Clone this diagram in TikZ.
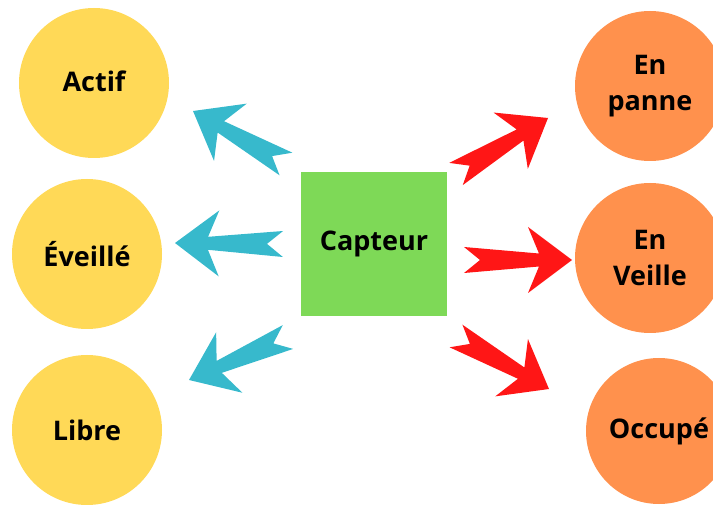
\documentclass[tikz,border=0pt]{standalone}
\usepackage{fontspec}
\setmainfont{Open Sans}
\usetikzlibrary{calc}
\definecolor{etatjaune}{RGB}{255,217,87}
\definecolor{etatorange}{RGB}{255,145,77}
\definecolor{capteurvert}{RGB}{126,217,87}
\definecolor{flechebleu}{RGB}{55,185,204}
\definecolor{flecherouge}{RGB}{255,22,22}
\tikzset{etat node/.style={circle,minimum size=150pt,inner sep=0pt,align=center,
            font=\fontsize{27}{36}\selectfont\bfseries},
         capteur node/.style={rectangle,fill=capteurvert,minimum width=146pt,minimum height=144pt,
            font=\fontsize{27}{36}\selectfont\bfseries},
            }
% fleche a queue fendue, de #1 (queue) vers #2 (pointe)
\newcommand{\fleche}[3]{%
    \fill[#3] ($(#1)!13pt!90:(#2)$) -- ($(#1)!16pt!(#2)$) -- ($(#1)!13pt!-90:(#2)$)
    -- ($($(#1)!75pt!(#2)$)!6.5pt!-90:(#2)$) -- ($($(#1)!64pt!(#2)$)!33pt!-90:(#2)$)
    -- (#2)
    -- ($($(#1)!64pt!(#2)$)!33pt!90:(#2)$) -- ($($(#1)!75pt!(#2)$)!6.5pt!90:(#2)$) -- cycle;}

\begin{document}
\begin{tikzpicture}[x=1pt,y=-1pt]
    \useasboundingbox (0,0) rectangle (713,505);
    \clip (0,0) rectangle (713,505);

    \node[etat node,fill=etatjaune] (actif) at (94,83) {\raisebox{4pt}{Actif}};
    \node[etat node,fill=etatjaune] (eveille) at (87,254) {Éveillé};
    \node[etat node,fill=etatjaune] (libre) at (87,430) {Libre};
    \node[etat node,fill=etatorange] (panne) at (650,86) {En\\panne};
    \node[etat node,fill=etatorange] (veille) at (650,258) {En\\Veille};
    \node[etat node,fill=etatorange,minimum size=146pt] (occupe) at (659,431) {Occupé};

    \node[capteur node] (capteur) at (374,244) {Capteur};

    \coordinate (q1) at (286,164);  \coordinate (p1) at (193,111);
    \coordinate (q2) at (283,244);  \coordinate (p2) at (175,243);
    \coordinate (q3) at (288,337);  \coordinate (p3) at (189,380);
    \coordinate (q4) at (456,174);  \coordinate (p4) at (548,118);
    \coordinate (q5) at (464,260);  \coordinate (p5) at (572,260);
    \coordinate (q6) at (456,336);  \coordinate (p6) at (549,389);

    \fleche{q1}{p1}{flechebleu}
    \fleche{q2}{p2}{flechebleu}
    \fleche{q3}{p3}{flechebleu}
    \fleche{q4}{p4}{flecherouge}
    \fleche{q5}{p5}{flecherouge}
    \fleche{q6}{p6}{flecherouge}
\end{tikzpicture}
\end{document}
